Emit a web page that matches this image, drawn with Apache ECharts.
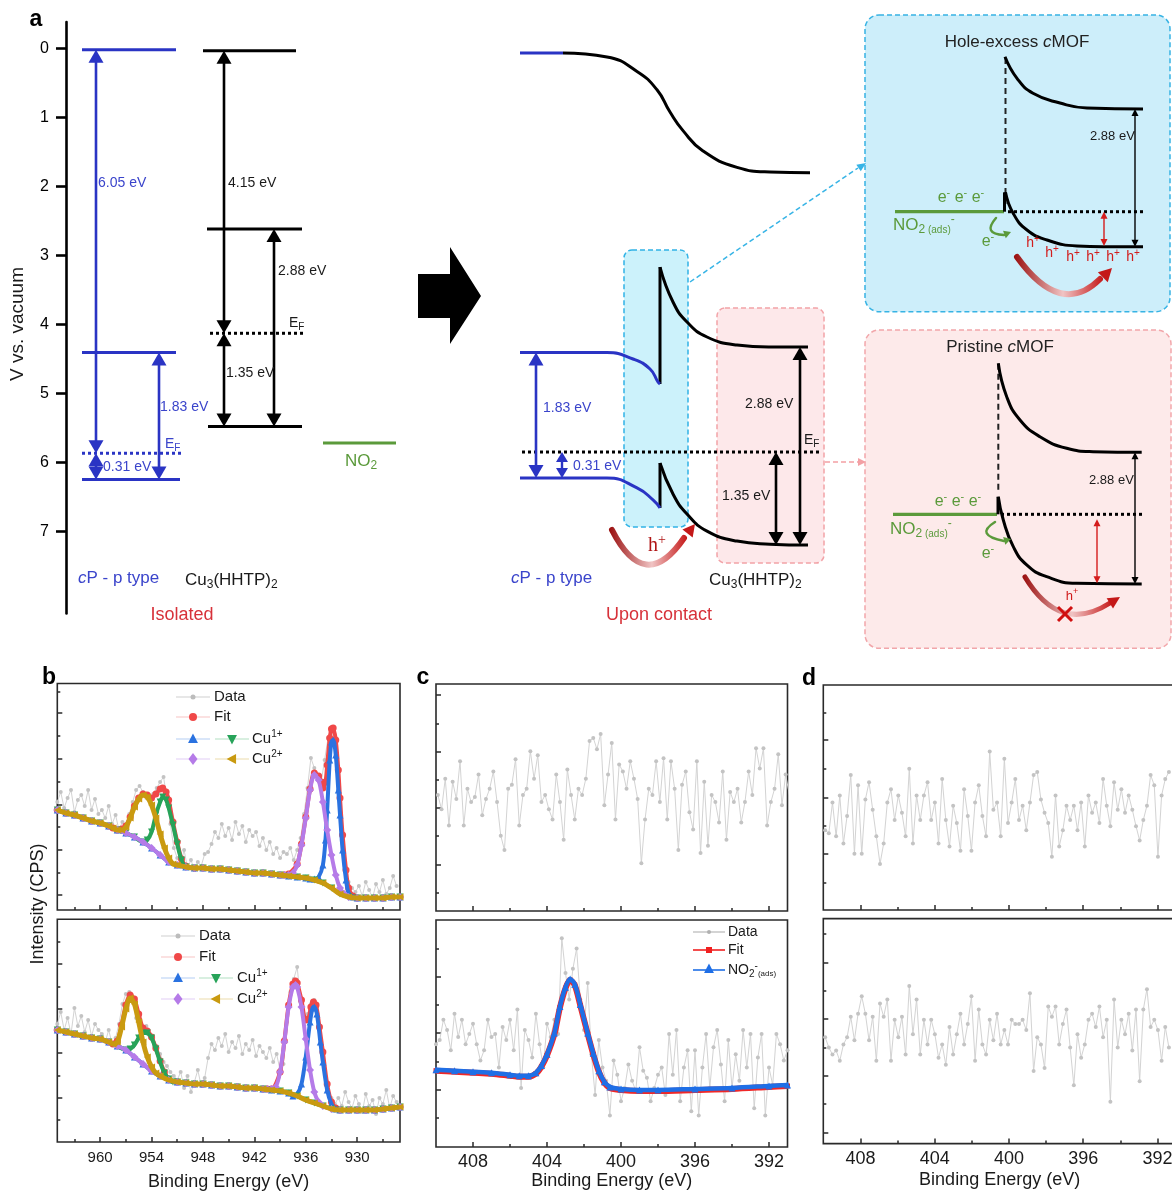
<!DOCTYPE html>
<html><head><meta charset="utf-8">
<script src="https://cdn.jsdelivr.net/npm/echarts@6/dist/echarts.min.js"></script>
<style>html,body{margin:0;padding:0;background:#fff}#c{width:1172px;height:1193px}</style>
</head><body><div id="c"></div>
<script>
// ================= DATA =================
// ---- Panel a: energy levels in eV below vacuum; first numbers = position along the schematic (a.u.) ----
const isoCPLevels   = [[82,176,0.02],[82,176,4.41],[82,180,6.25]];   // vacuum, LUMO, HOMO of cP
const isoCPFermi    = [[82,182,5.87]];
const isoMOFLevels  = [[203,296,0.035],[207,302,2.62],[208,302,5.48]]; // vacuum, CB, VB of Cu3(HHTP)2
const isoMOFFermi   = [[210,303,4.13]];
const isoNO2        = [[323,396,5.72]];
const isoArrowsCP   = [[96,0.02,5.87],[96,5.87,6.25],[159,4.41,6.25]];        // 6.05, 0.31, 1.83 eV
const isoArrowsMOF  = [[224,0.035,4.13],[224,4.13,5.48],[274,2.62,5.48]];     // 4.15, 1.35, 2.88 eV

const ctVacCP   = [[520,563,0.068]];
const ctVacMOF  = [[563,0.068],[607,0.126],[637,0.335],[657,0.601],[670,0.923],[683,1.193],[703,1.488],[737,1.725],[770,1.793],[810,1.803]];
const ctLumoCP  = [[520,4.41],[607,4.41],[633,4.503],[650,4.648],[658,4.836],[660,4.865]];
const ctCbMOF   = [[660,3.17],[673,3.677],[687,3.967],[707,4.184],[737,4.30],[770,4.329],[808,4.33]];
const ctHomoCP  = [[520,6.228],[607,6.228],[637,6.371],[653,6.545],[660,6.661]];
const ctVbMOF   = [[660,6.01],[673,6.46],[687,6.75],[707,6.997],[737,7.142],[770,7.186],[808,7.20]];
const ctFermi   = [[522,822,5.851]];
const ctSpikes  = [[660,4.865,3.17],[660,6.661,6.01]];
const ctArrowsCP  = [[536,4.41,6.228]];
const ctArrowsCPs = [[562,5.851,6.228]];
const ctArrowsMOF = [[776,5.851,7.20],[800,4.33,7.20]];
const ctRegions   = [[624,2.923,688,6.937],[717,3.764,824,7.459]];  // interface (cyan) / bulk MOF (pink)

// insets
const heCB = [[1005,0.122],[1017,0.435],[1033,0.652],[1060,0.793],[1087,0.865],[1143,0.88]];
const heVB = [[1005.5,2.087],[1013,2.387],[1027,2.633],[1047,2.778],[1077,2.865],[1103,2.875],[1143,2.875]];
const heNO2 = [[895,1004,2.368]];
const heFermi = [[1008,1143,2.368]];
const heDash = [[1005.5,0.141,2.296]];
const heSpike = [[1004.5,2.368,2.087]];
const heGap = [[1135,0.88,2.875]];
const heBend = [[1104,2.368,2.865]];
const prCB = [[998.3,4.565],[1006.7,5.049],[1020,5.387],[1040,5.629],[1066.7,5.797],[1093,5.846],[1141.7,5.855]];
const prVB = [[998.3,6.499],[1003.3,6.836],[1013.3,7.223],[1026.7,7.488],[1046.7,7.658],[1076.7,7.754],[1141.7,7.764]];
const prNO2 = [[893,997,6.754]];
const prFermi = [[1001,1142,6.754]];
const prDash = [[998.3,4.57,6.45]];
const prSpike = [[998,6.754,6.499]];
const prGap = [[1135,5.855,7.764]];
const prBend = [[1097,6.826,7.754]];
const insetBoxes = [[865,-0.483,1170,3.817],[865,4.083,1171,8.696]];

const aTicks = [0,1,2,3,4,5,6,7];

// ---- Panel b: Cu 2p XPS, binding energy (eV) vs intensity (a.u.) ----
const bE0 = 965, bStep = 0.4;
const bTopData = [108,118,102,112,120,98,110,115,104,120,100,111,96, 100,92,104,86,95,80,88, 84,96,108,120,124, 118,112,110,116,122, 128,133,112,86,62, 52,46,60,42,50,40,48,44,56, 58,66,78,72,86,74,82,70,88,76,84,68,80,74,78,64,72,60,68,56,62,52,58, 56,62,50,60,72,96,122,152,142,130,128,150,172,183,165,120,70,40,28,22, 18,24,14,28,20,12,26,18,30,16,22,34,24];
const bBotData = [118,130,112,124,108,134,116,126,110,122,106,118,112, 108,100,112,98,104,118,138, 148,150,140,124,116, 112,116,108,104,96, 88,80,76,70,66, 62,70,54,66,50,60,72,56,64, 84,98,92,104,96,108,90,100,94,106,88,98,92,102,86,96,90,84,94,80,88,72,78, 120,150,163,175,140,125,128,138,142,128,100,72,52,44,38,44,36,50,40,34, 46,38,30,48,36,42,28,44,38,52,34,46,40];
const bBgE0 = 965; // background every 1 eV
const bTopBackground = [100,97,95,92,89,87,84,80,77,73,68,62,55,48,45,43,42,42,41,41,40,39,38,37,37,36,35,34,33,32,30,27,22,16,13,12,12,12,12,13,13];
const bBotBackground = [112,110,108,106,104,103,100,96,92,85,78,71,66,62,60,59,58,58,57,56,56,55,54,54,53,52,51,49,46,42,39,36,33,32,32,32,32,32,33,34,35];
const bTopFitL = [[958.5,82],[958,80],[957.5,81],[957,84],[956.5,93],[956,104],[955.5,112],[955,116],[954.5,115],[954,112],[953.5,116],[953,121],[952.7,122],[952.3,118],[952,110],[951.5,88],[951,68],[950.5,51],[950,44]];
const bTopFitR = [[938.5,35],[938,36],[937,46],[936.5,66],[936,93],[935.5,121],[935,137],[934.5,134],[934.2,128],[934,122],[933.7,128],[933.5,145],[933.2,172],[933,181],[932.8,182],[932.5,170],[932.2,140],[932,112],[931.7,75],[931.3,40],[931,22],[930.5,14]];
const bTopCu1p32 = [[935.5,31],[935,31],[934.5,33],[934,45],[933.7,70],[933.5,100],[933.2,150],[933,168],[932.8,170],[932.5,155],[932.2,120],[932,95],[931.7,60],[931.3,30],[931,17],[930.5,13]];
const bTopCu1p12 = [[955,68],[954.5,70],[954,78],[953.5,95],[953,108],[952.7,113],[952.3,110],[952,102],[951.5,85],[951,66],[950.5,50],[950,43]];
const bTopCu2p32 = [[938.5,35],[938,35],[937.5,37],[937,45],[936.5,65],[936,92],[935.5,120],[935,135],[934.5,130],[934,108],[933.5,80],[933,55],[932.5,35],[932,22],[931.5,16]];
const bTopCu2p12 = [[958.5,82],[958,80],[957.5,80],[957,83],[956.5,92],[956,103],[955.5,111],[955,115],[954.5,113],[954,105],[953.5,92],[953,76],[952.5,62],[952,52],[951.5,46]];
const bBotFitL = [[958.5,98],[958,101],[957.5,117],[957,137],[956.5,147],[956,143],[955.5,128],[955,114],[954.5,111],[954,105],[953.5,94],[953,81],[952.5,70],[952,63]];
const bBotFitR = [[940.5,53],[940,53],[939,70],[938.5,101],[938,137],[937.5,158],[937.2,161],[937,159],[936.5,142],[936,122],[935.7,123],[935.4,135],[935.1,140],[934.8,137],[934.4,115],[934,90],[933.5,58],[933,40],[932.5,34]];
const bBotCu1p32 = [[937.5,46],[937,48],[936.5,58],[936,85],[935.5,120],[935.2,134],[935,135],[934.7,128],[934.3,100],[934,80],[933.5,52],[933,38],[932.5,33]];
const bBotCu1p12 = [[957,92],[956.5,93],[956,97],[955.5,104],[955,109],[954.5,109],[954,104],[953.5,93],[953,80],[952.5,69],[952,63],[951.5,60]];
const bBotCu2p32 = [[940.5,53],[940,53],[939.5,55],[939,70],[938.5,100],[938,135],[937.5,155],[937.2,157],[937,155],[936.5,135],[936,103],[935.5,72],[935,50],[934.5,40],[934,36]];
const bBotCu2p12 = [[958.5,98],[958,100],[957.5,115],[957,133],[956.5,144],[956,138],[955.5,120],[955,100],[954.5,85],[954,75],[953.5,69],[953,66]];
const bMajorE = [960,954,948,942,936,930], bMinorE = [963,957,951,945,939,933,927];
const bTopYMajor = [15,60,105,151,197], bTopYMinor = [37,83,128,174,218];
const bBotYMajor = [44,89,133,178], bBotYMinor = [22,66,110,155,200];

// ---- Panel c: N 1s XPS ----
const cTopE0 = 409.9, cBotE0 = 410.0, cStep = 0.2;
const cTopData = [114,100,130,84,127,110,147,84,120,107,112,134,94,110,120,137,107,74,60,120,124,149,84,114,120,157,130,153,107,114,100,90,134,107,70,139,114,90,120,114,130,167,170,159,174,104,134,165,90,144,137,120,147,130,110,47,90,120,114,147,107,150,90,147,120,60,124,137,97,80,147,57,127,64,114,107,87,137,70,117,107,120,87,107,137,114,160,140,160,84,107,120,154,104,134,114];
const cBotData = [101,105,125,115,95,131,108,125,101,111,121,101,85,95,125,108,111,78,118,105,125,95,135,58,115,105,88,131,101,78,121,108,125,111,205,171,145,175,195,145,115,161,91,51,105,78,65,31,85,71,45,58,81,65,55,98,75,68,45,58,71,78,51,111,71,115,45,78,95,35,95,31,78,111,58,98,115,81,45,105,58,91,65,115,78,111,38,88,111,31,78,61,111,101,85,95];
const cBotNO2 = [[410,76],[409,75],[408,74],[407,73],[406,71],[405.5,70],[405,70],[404.6,73],[404.3,80],[404,91],[403.6,112],[403.3,138],[403,157],[402.75,165],[402.5,160],[402.2,140],[401.8,112],[401.5,92],[401.2,75],[400.9,64],[400.6,59],[400,57],[399,56],[398,56],[396,57],[394,58],[392,60],[391,61]];
const cBotFit = [[410,75],[409,74],[408,73],[407,72],[406,70],[405.5,69],[405,69],[404.6,72],[404.3,79],[404,90],[403.6,111],[403.3,137],[403,156],[402.75,164],[402.5,159],[402.2,139],[401.8,111],[401.5,91],[401.2,74],[400.9,63],[400.6,58],[400,56],[399,55],[398,55],[396,56],[394,57],[392,59],[391,60]];
const cdMajorE = [408,404,400,396,392], cdMinorE = [406,402,398,394];
const cTopYMajor = [45,101,156,212], cTopYMinor = [18,74,129,184];
const cBotYMajor = [56,112,167], cBotYMinor = [29,84,140,195];

// ---- Panel d: N 1s XPS (no adsorbate) ----
const dE0 = 409.9, dStep = 0.197;
const dTopData = [78,75,105,72,112,65,92,132,55,122,55,108,125,98,72,45,65,105,118,88,112,95,72,138,65,112,88,112,125,88,105,65,128,88,62,102,85,58,118,92,58,105,122,92,72,155,98,105,72,148,85,105,128,88,102,78,105,132,135,108,95,85,52,112,62,78,102,88,102,78,105,62,112,95,105,85,128,102,82,125,98,118,95,112,98,82,68,88,102,132,122,52,112,128,135];
const dBotData = [104,94,87,91,81,97,104,124,101,127,144,127,101,124,81,137,124,141,81,121,104,124,87,154,107,141,87,121,97,121,107,84,97,77,114,87,107,127,97,117,144,81,131,97,87,121,101,127,97,111,97,121,117,117,121,111,147,71,104,97,74,134,124,134,97,117,131,94,57,107,84,97,121,127,114,134,104,121,41,141,94,121,107,127,91,131,61,131,151,114,121,111,81,114,94];
const dTopYMajor = [55,110,166], dTopYMinor = [27,82,138,193];
const dBotYMajor = [11,66,122,177], dBotYMinor = [39,94,149,205];

// ================= BUILD =================
const FONT = '"Liberation Sans", Arial, Helvetica, sans-serif';
const BLUE = '#2a34c4', BLUE_T = '#3a44cb', GREEN = '#5b9a3b', RED_T = '#d7323a', DARK = '#1a1a1a';

const spectrum = (vals, e0, step) => vals.map((v, i) => [+(e0 - i * step).toFixed(3), v]);
const bgSeries = (vals) => vals.map((v, i) => [bBgE0 - i, v]);
function withBackground(bg, peaks) {
  const ranges = peaks.map(p => [Math.min(...p.map(d => d[0])), Math.max(...p.map(d => d[0]))]);
  const pts = bg.filter(d => !ranges.some(r => d[0] >= r[0] && d[0] <= r[1]));
  peaks.forEach(p => pts.push(...p));
  return pts.sort((a, b) => b[0] - a[0]);
}

const grids = [
  {left: 66, top: 22.1, width: 1106, height: 591.3},
  {left: 57.3, top: 683.5, width: 342.7, height: 226.5},
  {left: 57.3, top: 919.3, width: 342.7, height: 222.7},
  {left: 436, top: 684, width: 351.5, height: 227},
  {left: 436, top: 920, width: 351.5, height: 227},
  {left: 823.3, top: 685, width: 352.7, height: 225},
  {left: 823.3, top: 918.6, width: 352.7, height: 225}
];
grids.forEach((g, i) => {
  g.outerBoundsMode = 'none'; g.containLabel = false;
  if (i > 0) Object.assign(g, {show: true, borderColor: '#2a2a2a', borderWidth: 1.6, backgroundColor: 'rgba(0,0,0,0)'});
});

const xAxes = [{gridIndex: 0, type: 'value', min: 66, max: 1172, show: false}];
const yAxes = [{gridIndex: 0, type: 'value', min: -0.38, max: 8.19, inverse: true,
  axisLine: {show: true, lineStyle: {color: '#000', width: 2.6}},
  axisTick: {show: true, length: 10, customValues: aTicks, lineStyle: {color: '#000', width: 2.6}},
  axisLabel: {show: true, customValues: aTicks, fontSize: 16, margin: 17, color: '#000', fontFamily: FONT},
  splitLine: {show: false}}];

function addXps(gi, xr, xMaj, xMin, yr, yMaj, yMin, lab) {
  const tickC = '#2a2a2a';
  xAxes.push({gridIndex: gi, type: 'value', min: xr[0], max: xr[1], inverse: true, position: 'bottom',
    axisLine: {show: false}, splitLine: {show: false},
    axisTick: {show: true, inside: true, length: 5, customValues: xMaj, lineStyle: {color: tickC, width: 1.5}},
    axisLabel: {show: !!lab, customValues: xMaj, margin: lab ? lab.m : 8, fontSize: lab ? lab.fs : 15, color: DARK, fontFamily: FONT},
    name: lab ? 'Binding Energy (eV)' : '', nameLocation: 'middle', nameGap: lab ? lab.g : 30,
    nameTextStyle: {fontSize: 18, color: DARK, fontFamily: FONT}});
  xAxes.push({gridIndex: gi, type: 'value', min: xr[0], max: xr[1], inverse: true, position: 'bottom',
    axisLine: {show: false}, splitLine: {show: false}, axisLabel: {show: false},
    axisTick: {show: true, inside: true, length: 3, customValues: xMin, lineStyle: {color: tickC, width: 1.5}}});
  yAxes.push({gridIndex: gi, type: 'value', min: yr[0], max: yr[1], position: 'left',
    axisLine: {show: false}, splitLine: {show: false}, axisLabel: {show: false},
    axisTick: {show: true, inside: true, length: 5, customValues: yMaj, lineStyle: {color: tickC, width: 1.5}}});
  yAxes.push({gridIndex: gi, type: 'value', min: yr[0], max: yr[1], position: 'left',
    axisLine: {show: false}, splitLine: {show: false}, axisLabel: {show: false},
    axisTick: {show: true, inside: true, length: 3, customValues: yMin, lineStyle: {color: tickC, width: 1.5}}});
  return xAxes.length - 2;
}
const ibT = addXps(1, [925, 965], bMajorE, bMinorE, [0, 226.5], bTopYMajor, bTopYMinor, null);
const ibB = addXps(2, [925, 965], bMajorE, bMinorE, [0, 222.7], bBotYMajor, bBotYMinor, {m: 8, fs: 15, g: 31});
const icT = addXps(3, [391, 410], cdMajorE, cdMinorE, [0, 223], cTopYMajor, cTopYMinor, null);
const icB = addXps(4, [391, 410], cdMajorE, cdMinorE, [0, 223], cBotYMajor, cBotYMinor, {m: 6, fs: 18, g: 24});
const idT = addXps(5, [391, 410], cdMajorE, cdMinorE, [0, 220], dTopYMajor, dTopYMinor, null);
const idB = addXps(6, [391, 410], cdMajorE, cdMinorE, [0, 220], dBotYMajor, dBotYMinor, {m: 6, fs: 18, g: 27});

function ls(name, ai, data, o) {
  return {type: 'line', name, xAxisIndex: ai, yAxisIndex: ai, data, smooth: o.smooth || false,
    symbol: o.sym || 'circle', symbolSize: o.ss || 4, symbolRotate: o.rot || 0, showSymbol: true, showAllSymbol: true,
    itemStyle: {color: o.c}, lineStyle: {color: o.lc || o.c, width: o.lw || 1}, z: o.z || 2, silent: true};
}
const GRAY = {c: '#c3c3c3', lc: '#d3d3d3', lw: 1, ss: 4};
const C = {fit: '#f04848', b: '#2a72e0', g: '#27a359', p: '#b57be8', o: '#c99a10'};
const series = [];
function addCu(ai, data, bgVals, fitL, fitR, c1a, c1b, c2a, c2b) {
  const bg = bgSeries(bgVals);
  series.push(ls('Data', ai, spectrum(data, bE0, bStep), GRAY));
  series.push(ls('Fit', ai, withBackground(bg, [fitL, fitR]), {c: C.fit, lw: 4, ss: 7, smooth: 0.3, z: 3}));
  series.push(ls('Cu1+ 2p3/2', ai, withBackground(bg, [c1a]), {c: C.b, lw: 4, ss: 7, sym: 'triangle', smooth: 0.3, z: 4}));
  series.push(ls('Cu1+ 2p1/2', ai, withBackground(bg, [c1b]), {c: C.g, lw: 4, ss: 7, sym: 'triangle', rot: 180, smooth: 0.3, z: 5}));
  series.push(ls('Cu2+ 2p3/2', ai, withBackground(bg, [c2a]), {c: C.p, lw: 4, ss: 8, sym: 'diamond', smooth: 0.3, z: 6}));
  series.push(ls('Cu2+ 2p1/2', ai, withBackground(bg, [c2b]), {c: C.o, lw: 5, ss: 7, sym: 'triangle', rot: 90, smooth: 0.3, z: 7}));
}
addCu(ibT, bTopData, bTopBackground, bTopFitL, bTopFitR, bTopCu1p32, bTopCu1p12, bTopCu2p32, bTopCu2p12);
addCu(ibB, bBotData, bBotBackground, bBotFitL, bBotFitR, bBotCu1p32, bBotCu1p12, bBotCu2p32, bBotCu2p12);
series.push(ls('Data', icT, spectrum(cTopData, cTopE0, cStep), GRAY));
series.push(ls('Data', icB, spectrum(cBotData, cBotE0, cStep), GRAY));
series.push(ls('Fit', icB, cBotFit, {c: '#f02828', lw: 6, ss: 5, sym: 'rect', smooth: 0.3, z: 3}));
series.push(ls('NO2-(ads)', icB, cBotNO2, {c: '#1f6fe6', lw: 4.5, ss: 7, sym: 'triangle', smooth: 0.3, z: 4}));
series.push(ls('Data', idT, spectrum(dTopData, dE0, dStep), GRAY));
series.push(ls('Data', idB, spectrum(dBotData, dE0, dStep), GRAY));

// ---- panel a series ----
const SEG = {
  blue: {c: BLUE, w: 3}, black: {c: '#000', w: 3}, blueDot: {c: BLUE, w: 3, d: [3, 3]},
  blackDot: {c: '#000', w: 3, d: [3, 3]}, green: {c: GREEN, w: 3.2}, dash: {c: '#222', w: 2, d: [6, 4]}
};
const segs = [];
const hseg = (arr, k) => arr.forEach(s => segs.push([s[0], s[2], s[1], s[2], k]));
const vseg = (arr, k) => arr.forEach(s => segs.push([s[0], s[1], s[0], s[2], k]));
hseg(isoCPLevels, 'blue'); hseg(isoCPFermi, 'blueDot'); hseg(isoMOFLevels, 'black'); hseg(isoMOFFermi, 'blackDot');
hseg(isoNO2, 'green'); hseg(ctVacCP, 'blue'); hseg(ctFermi, 'blackDot'); vseg(ctSpikes, 'black');
hseg(heNO2, 'green'); hseg(heFermi, 'blackDot'); vseg(heDash, 'dash'); vseg(heSpike, 'black');
hseg(prNO2, 'green'); hseg(prFermi, 'blackDot'); vseg(prDash, 'dash'); vseg(prSpike, 'black');

const ARW = {
  blue: {c: BLUE, w: 2.6, h: [15, 13]}, blueS: {c: BLUE, w: 2.4, h: [12, 10]},
  black: {c: '#000', w: 2.6, h: [15, 13]}, blackS: {c: '#000', w: 1.4, h: [7, 7]}, redS: {c: '#d41c1c', w: 1.4, h: [7, 7]}
};
const arrows = [];
const addA = (arr, k) => arr.forEach(a => arrows.push([a[0], a[1], a[2], k]));
addA(isoArrowsCP, 'blue'); addA(isoArrowsMOF, 'black'); addA(ctArrowsCP, 'blue'); addA(ctArrowsCPs, 'blueS');
addA(ctArrowsMOF, 'black'); addA(heGap, 'blackS'); addA(heBend, 'redS'); addA(prGap, 'blackS'); addA(prBend, 'redS');

const boxes = [];
ctRegions.forEach((b, i) => boxes.push([...b, i === 0 ? 'cyan' : 'pink', 8]));
insetBoxes.forEach((b, i) => boxes.push([...b, i === 0 ? 'cyan2' : 'pink2', 14]));
const BOX = {cyan: {f: '#ccf2fb', s: '#31b3e6'}, pink: {f: '#fde8ea', s: '#f2a2a7'}, cyan2: {f: '#cdeefa', s: '#37b3e4'}, pink2: {f: '#fdeaea', s: '#f2a6aa'}};

series.push({type: 'custom', xAxisIndex: 0, yAxisIndex: 0, z: 1, silent: true,
  data: boxes.map(b => [b[0], b[1], b[2], b[3]]),
  renderItem: (p, api) => {
    const b = boxes[p.dataIndex], k = BOX[b[4]];
    const p1 = api.coord([b[0], b[1]]), p2 = api.coord([b[2], b[3]]);
    return {type: 'rect', shape: {x: p1[0], y: p1[1], width: p2[0] - p1[0], height: p2[1] - p1[1], r: b[5]},
      style: {fill: k.f, stroke: k.s, lineWidth: 1.5, lineDash: [5, 3]}};
  }});
series.push({type: 'custom', xAxisIndex: 0, yAxisIndex: 0, z: 3, silent: true,
  data: segs.map(s => [s[0], s[1], s[2], s[3]]),
  renderItem: (p, api) => {
    const s = segs[p.dataIndex], k = SEG[s[4]];
    const p1 = api.coord([s[0], s[1]]), p2 = api.coord([s[2], s[3]]);
    return {type: 'line', shape: {x1: p1[0], y1: p1[1], x2: p2[0], y2: p2[1]},
      style: {stroke: k.c, lineWidth: k.w, lineDash: k.d || null}};
  }});
series.push({type: 'custom', xAxisIndex: 0, yAxisIndex: 0, z: 4, silent: true,
  data: arrows.map(a => [a[0], a[1], a[2]]),
  renderItem: (p, api) => {
    const a = arrows[p.dataIndex], k = ARW[a[3]];
    const p1 = api.coord([a[0], a[1]]), p2 = api.coord([a[0], a[2]]);
    const x = p1[0], t = Math.min(p1[1], p2[1]), b = Math.max(p1[1], p2[1]), hw = k.h[0] / 2, hh = k.h[1];
    return {type: 'group', children: [
      {type: 'line', shape: {x1: x, y1: t + hh * 0.7, x2: x, y2: b - hh * 0.7}, style: {stroke: k.c, lineWidth: k.w}},
      {type: 'polygon', shape: {points: [[x, t], [x - hw, t + hh], [x + hw, t + hh]]}, style: {fill: k.c}},
      {type: 'polygon', shape: {points: [[x, b], [x - hw, b - hh], [x + hw, b - hh]]}, style: {fill: k.c}}
    ]};
  }});
[[ctVacMOF, '#000'], [ctLumoCP, BLUE], [ctCbMOF, '#000'], [ctHomoCP, BLUE], [ctVbMOF, '#000'],
 [heCB, '#000'], [heVB, '#000'], [prCB, '#000'], [prVB, '#000']].forEach(([d, c]) => {
  series.push({type: 'line', xAxisIndex: 0, yAxisIndex: 0, data: d, smooth: 0.5, showSymbol: false, symbol: 'none',
    lineStyle: {color: c, width: 3}, z: 3, silent: true, clip: false});
});

// ---- graphic: text, legends and decorations ----
function rich(fs, c, ff) {
  const b = {fill: c, fontFamily: ff};
  return {
    sub: {...b, fontSize: Math.round(fs * 0.68), padding: [Math.round(fs * 0.55), 0, 0, 0]},
    sup: {...b, fontSize: Math.round(fs * 0.68), padding: [0, 0, Math.round(fs * 0.6), 0]},
    s2: {...b, fontSize: Math.round(fs * 0.56), padding: [Math.round(fs * 0.6), 0, 0, 0]},
    i: {...b, fontSize: fs, fontStyle: 'italic'}
  };
}
function txt(x, y, text, o = {}) {
  const fs = o.fs || 14, c = o.c || DARK, ff = o.ff || FONT;
  return {type: 'text', x, y, z: 100, rotation: o.rot || 0, silent: true,
    style: {text, fill: c, fontSize: fs, fontFamily: ff, fontWeight: o.fw || 'normal',
      align: o.a || 'left', verticalAlign: 'middle', rich: rich(fs, c, ff)}};
}
function arrowHead(tx, ty, fx, fy, len, hw, color) {
  const a = Math.atan2(ty - fy, tx - fx), bx = tx - len * Math.cos(a), by = ty - len * Math.sin(a);
  const px = -Math.sin(a) * hw, py = Math.cos(a) * hw;
  return {type: 'polygon', z: 60, silent: true, shape: {points: [[tx, ty], [bx + px, by + py], [bx - px, by - py]]}, style: {fill: color}};
}
const line = (x1, y1, x2, y2, stroke, w, dash) => ({type: 'line', z: 60, silent: true, shape: {x1, y1, x2, y2}, style: {stroke, lineWidth: w || 1, lineDash: dash || null}});
const bez = (x1, y1, cx, cy, x2, y2, stroke, w) => ({type: 'bezierCurve', z: 60, silent: true, shape: {x1, y1, cpx1: cx, cpy1: cy, x2, y2}, style: {stroke, lineWidth: w, fill: 'none', lineCap: 'round'}});
const redGrad = {type: 'linear', x: 0, y: 0, x2: 1, y2: 0, colorStops: [{offset: 0, color: '#990d0d'}, {offset: 0.55, color: '#f0c4c4'}, {offset: 1, color: '#c51818'}]};
function sym(kind, cx, cy, s, color) {
  if (kind === 'circle') return {type: 'circle', z: 100, silent: true, shape: {cx, cy, r: s / 2}, style: {fill: color}};
  if (kind === 'rect') return {type: 'rect', z: 100, silent: true, shape: {x: cx - s / 2, y: cy - s / 2, width: s, height: s}, style: {fill: color}};
  if (kind === 'diamond') return {type: 'polygon', z: 100, silent: true, shape: {points: [[cx, cy - s * 0.6], [cx + s * 0.45, cy], [cx, cy + s * 0.6], [cx - s * 0.45, cy]]}, style: {fill: color}};
  const rot = {up: 0, down: 180, left: 90}[kind] * Math.PI / 180;
  const pts = [[0, -s * 0.6], [-s * 0.55, s * 0.45], [s * 0.55, s * 0.45]].map(([x, y]) =>
    [cx + x * Math.cos(rot) + y * Math.sin(rot), cy - x * Math.sin(rot) + y * Math.cos(rot)]);
  return {type: 'polygon', z: 100, silent: true, shape: {points: pts}, style: {fill: color}};
}
function cuLegend(x1, x2, tx1, tx2, ys) {
  const out = [];
  out.push(line(x1 - 17, ys[0], x1 + 17, ys[0], '#d0d0d0', 1.2), sym('circle', x1, ys[0], 5, '#bcbcbc'), txt(tx1, ys[0], 'Data', {fs: 15}));
  out.push(line(x1 - 17, ys[1], x1 + 17, ys[1], '#f7c4c4', 1.2), sym('circle', x1, ys[1], 8, C.fit), txt(tx1, ys[1], 'Fit', {fs: 15}));
  out.push(line(x1 - 17, ys[2], x1 + 17, ys[2], '#b3cdf4', 1.2), sym('up', x1, ys[2], 9, C.b),
    line(x2 - 17, ys[2], x2 + 17, ys[2], '#b1dfc2', 1.2), sym('down', x2, ys[2], 9, C.g), txt(tx2, ys[2], 'Cu{sup|1+}', {fs: 15}));
  out.push(line(x1 - 17, ys[3], x1 + 17, ys[3], '#e2cdf6', 1.2), sym('diamond', x1, ys[3], 10, C.p),
    line(x2 - 17, ys[3], x2 + 17, ys[3], '#ecdcab', 1.2), sym('left', x2, ys[3], 9, C.o), txt(tx2, ys[3], 'Cu{sup|2+}', {fs: 15}));
  return out;
}

const graphics = [
  // panel letters and axis titles
  txt(36, 20, 'a', {fs: 23, fw: 'bold', a: 'center', c: '#000'}),
  txt(49, 678, 'b', {fs: 23, fw: 'bold', a: 'center', c: '#000'}),
  txt(423, 678, 'c', {fs: 23, fw: 'bold', a: 'center', c: '#000'}),
  txt(809, 679, 'd', {fs: 23, fw: 'bold', a: 'center', c: '#000'}),
  txt(18, 324, 'V vs. vacuum', {fs: 19, a: 'center', rot: Math.PI / 2}),
  txt(38, 904, 'Intensity (CPS)', {fs: 18, a: 'center', rot: Math.PI / 2}),
  // isolated
  txt(98, 183, '6.05 eV', {c: BLUE_T}), txt(228, 183, '4.15 eV'), txt(278, 271, '2.88 eV'),
  txt(289, 323, 'E{sub|F}'), txt(226, 373, '1.35 eV'),
  txt(160, 407, '1.83 eV', {c: BLUE_T}), txt(165, 444, 'E{sub|F}', {c: BLUE_T}), txt(103, 467, '0.31 eV', {c: BLUE_T}),
  txt(345, 461, 'NO{sub|2}', {c: GREEN, fs: 17}),
  txt(78, 578, '{i|c}P - p type', {c: BLUE_T, fs: 17}),
  txt(185, 580, 'Cu{sub|3}(HHTP){sub|2}', {fs: 17}),
  txt(182, 615, 'Isolated', {c: RED_T, fs: 18, a: 'center'}),
  // contact
  txt(543, 408, '1.83 eV', {c: BLUE_T}), txt(573, 466, '0.31 eV', {c: BLUE_T}),
  txt(745, 404, '2.88 eV'), txt(804, 440, 'E{sub|F}'), txt(722, 496, '1.35 eV'),
  txt(511, 578, '{i|c}P - p type', {c: BLUE_T, fs: 17}),
  txt(709, 580, 'Cu{sub|3}(HHTP){sub|2}', {fs: 17}),
  txt(659, 615, 'Upon contact', {c: RED_T, fs: 18, a: 'center'}),
  txt(657, 546, 'h{sup|+}', {c: '#b01515', fs: 20, ff: '"Liberation Serif", "DejaVu Serif", serif', a: 'center'}),
  // big arrow + connectors
  {type: 'polygon', z: 60, silent: true, shape: {points: [[418, 274], [450, 274], [450, 247], [481, 296], [450, 344], [450, 318], [418, 318]]}, style: {fill: '#000'}},
  line(690, 282, 858, 168, '#37b4e6', 1.5, [5, 3]), arrowHead(866, 163, 690, 282, 9, 4, '#37b4e6'),
  line(825, 462, 858, 462, '#f3a0a4', 1.5, [5, 3]), arrowHead(866, 462, 825, 462, 8, 4, '#f3a0a4'),
  bez(612, 530, 645, 595, 684, 538, redGrad, 6), arrowHead(695, 524, 680, 543, 12, 6.5, '#c41818'),
  // hole-excess inset
  txt(1017, 42, 'Hole-excess {i|c}MOF', {fs: 17, a: 'center', c: '#222'}),
  txt(1090, 136, '2.88 eV', {fs: 13}),
  txt(961, 198, 'e{sup|-} e{sup|-} e{sup|-}', {fs: 16, c: GREEN, a: 'center'}),
  txt(893, 225, 'NO{sub|2}{s2| (ads)}{sup|-}', {fs: 17, c: GREEN}),
  txt(988, 242, 'e{sup|-}', {fs: 16, c: GREEN, a: 'center'}),
  bez(996, 218, 982, 234, 1004, 235, GREEN, 2.5), arrowHead(1011, 232, 1000, 236, 7, 4, GREEN),
  bez(1017, 257, 1061, 318, 1100, 279, redGrad, 6), arrowHead(1112, 268, 1094, 286, 13, 7, '#c41818'),
  // pristine inset
  txt(1000, 347, 'Pristine {i|c}MOF', {fs: 17, a: 'center', c: '#222'}),
  txt(1089, 480, '2.88 eV', {fs: 13}),
  txt(958, 502, 'e{sup|-} e{sup|-} e{sup|-}', {fs: 16, c: GREEN, a: 'center'}),
  txt(890, 529, 'NO{sub|2}{s2| (ads)}{sup|-}', {fs: 17, c: GREEN}),
  txt(988, 554, 'e{sup|-}', {fs: 16, c: GREEN, a: 'center'}),
  bez(995, 522, 974, 535, 1004, 541, GREEN, 2.5), arrowHead(1011, 539, 1000, 542, 7, 4, GREEN),
  bez(1025, 577, 1060, 635, 1110, 603, redGrad, 5), arrowHead(1120, 597, 1104, 607, 12, 6, '#c41818'),
  line(1058, 607, 1072, 621, '#d01010', 3), line(1072, 607, 1058, 621, '#d01010', 3),
  txt(1072, 596, 'h{sup|+}', {fs: 13, c: '#d01c1c', a: 'center'}),
  // c legend
  line(693, 932, 725, 932, '#b8b8b8', 1.2), sym('circle', 709, 932, 4, '#b0b0b0'), txt(728, 932, 'Data', {fs: 14}),
  line(693, 950, 725, 950, '#f02020', 1.6), sym('rect', 709, 950, 6, '#f02020'), txt(728, 950, 'Fit', {fs: 14}),
  line(693, 970, 725, 970, '#1f6fe6', 1.6), sym('up', 709, 969, 9, '#1f6fe6'), txt(728, 970, 'NO{sub|2}{sup|-}{s2|(ads)}', {fs: 14}),
  ...cuLegend(193, 232, 214, 252, [697, 717, 739, 759]),
  ...cuLegend(178, 216, 199, 237, [936, 957, 978, 999])
];
['1033,243', '1052,253', '1073,257', '1093,257', '1113,257', '1133,257'].forEach(s => {
  const [x, y] = s.split(',').map(Number);
  graphics.push(txt(x, y, 'h{sup|+}', {fs: 14, c: '#d21d1d', a: 'center'}));
});

const chart = echarts.init(document.getElementById('c'), null, {renderer: 'canvas'});
chart.setOption({
  animation: false, backgroundColor: '#fff',
  grid: grids, xAxis: xAxes, yAxis: yAxes, series,
  graphic: {elements: graphics}
});
</script></body></html>
